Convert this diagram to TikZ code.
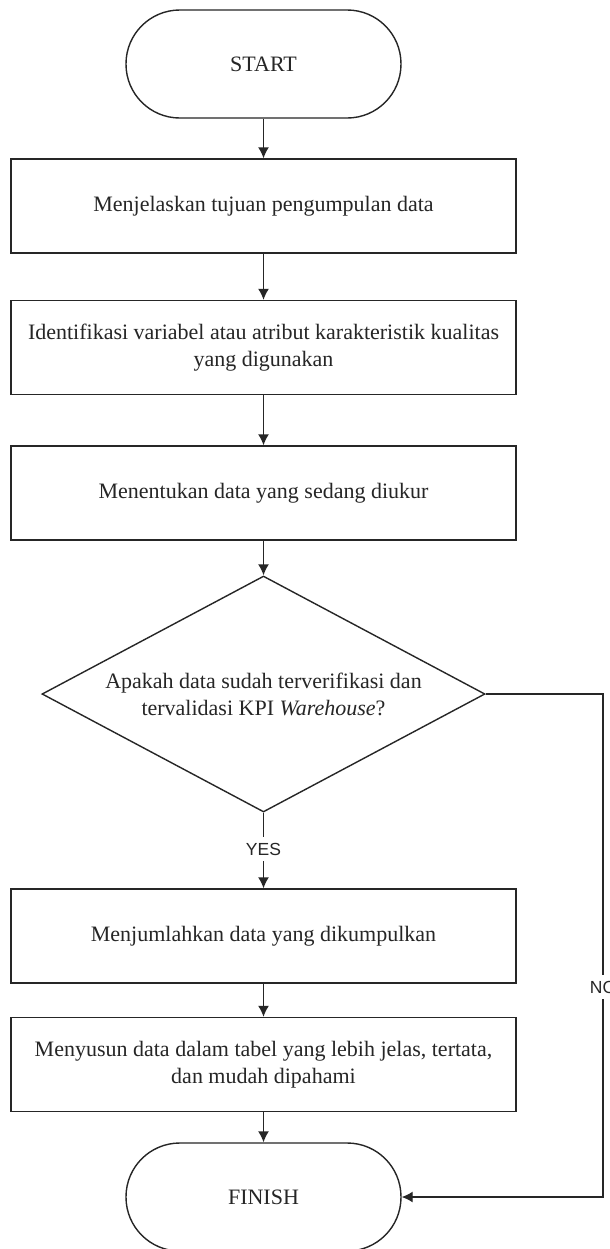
\documentclass[tikz,border=0pt]{standalone}
\usepackage{fontspec}
\setmainfont{Liberation Serif}
\newfontfamily\lblfont{Liberation Sans}
\usetikzlibrary{shapes.geometric, arrows.meta}
\begin{document}
\begin{tikzpicture}[x=0.5pt,y=-0.5pt,
  every node/.style={font=\fontsize{11}{13.5}\selectfont, text=black!85},
  flowline/.style={draw=black!85, line width=0.7pt},
  arr/.style={flowline, -{Latex[length=5.5pt,width=5.5pt]}},
  terminal/.style={draw=black!85, line width=0.7pt, rectangle, rounded corners=26.9pt, minimum width=137.5pt, minimum height=54pt, inner sep=0pt},
  procbox/.style={draw=black!85, line width=0.7pt, rectangle, minimum width=252.5pt, minimum height=47pt, align=center, inner sep=0pt},
  decision/.style={draw=black!85, line width=0.7pt, diamond, aspect=1.877, minimum width=221.5pt, minimum height=118pt, inner sep=0pt, align=center},
  branchlbl/.style={font=\lblfont\fontsize{8.75}{10}\selectfont, fill=white, inner xsep=1pt, inner ysep=2.8pt}
]
\useasboundingbox (0,0) rectangle (610,1249);
\fill[white] (0,0) rectangle (610,1249);

\node[terminal] (start) at (263.5,64) {START};
\node[procbox] (b1) at (263.5,206) {Menjelaskan tujuan pengumpulan data};
\node[procbox] (b2) at (263.5,347.5) {Identifikasi variabel atau atribut karakteristik kualitas\\yang digunakan};
\node[procbox] (b3) at (263.5,493) {Menentukan data yang sedang diukur};
\node[decision] (dec) at (263.5,694) {Apakah data sudah terverifikasi dan\\tervalidasi KPI \textit{Warehouse}?};
\node[procbox] (b4) at (263.5,936) {Menjumlahkan data yang dikumpulkan};
\node[procbox] (b5) at (263.5,1064.5) {Menyusun data dalam tabel yang lebih jelas, tertata,\\dan mudah dipahami};
\node[terminal] (finish) at (263.5,1197) {FINISH};
\coordinate (noA) at (603,694);
\coordinate (noB) at (603,1197);

\draw[arr] (start.south) -- (b1.north);
\draw[arr] (b1.south) -- (b2.north);
\draw[arr] (b2.south) -- (b3.north);
\draw[arr] (b3.south) -- (dec.north);
\draw[arr] (dec.south) -- node[branchlbl,pos=0.48]{YES} (b4.north);
\draw[arr] (b4.south) -- (b5.north);
\draw[arr] (b5.south) -- (finish.north);
\draw[arr] (dec.east) -- (noA) -- node[branchlbl,pos=0.583]{NO} (noB) -- (finish.east);
\end{tikzpicture}
\end{document}
